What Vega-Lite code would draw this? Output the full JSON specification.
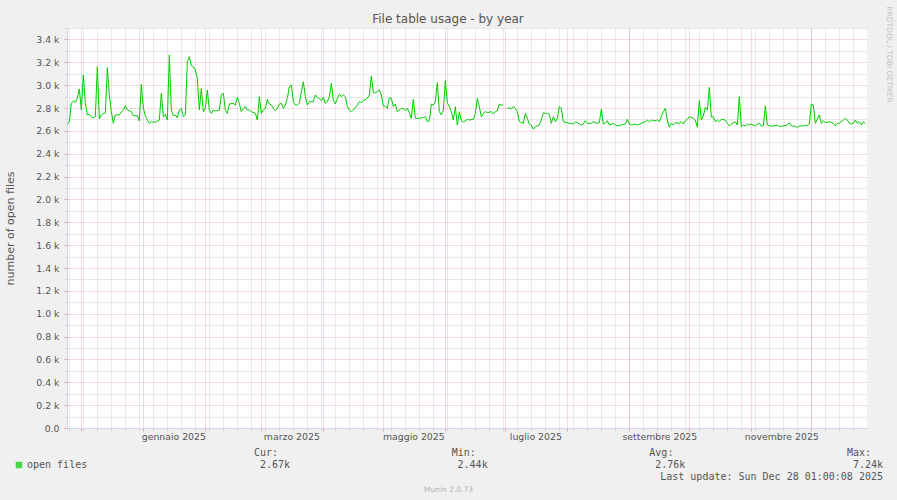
{
"$schema": "https://vega.github.io/schema/vega-lite/v6.json",
"width": 800, "height": 400,
"autosize": "none",
"padding": {"left": 67, "top": 28, "right": 30, "bottom": 72},
"background": "#f0f0f0",
"title": {"text": "File table usage - by year", "font": "DejaVu Sans", "fontSize": 12, "fontWeight": "normal", "color": "#555555", "anchor": "middle", "dx": -19, "dy": 24, "offset": 4},
"config": {
  "view": {"fill": "#ffffff", "stroke": null},
  "axis": {"labelFont": "DejaVu Sans", "titleFont": "DejaVu Sans", "labelColor": "#555555", "titleColor": "#555555", "titleFontWeight": "normal", "labelFontSize": 9.33}
},
"datasets": {
"files": [
{"date":"2024-11-24","files":2657},{"date":"2024-11-25","files":2680},{"date":"2024-11-26","files":2841},{"date":"2024-11-27","files":2861},{"date":"2024-11-28","files":2850},{"date":"2024-11-29","files":2885},{"date":"2024-11-30","files":2966},
{"date":"2024-12-01","files":2782},{"date":"2024-12-02","files":3089},{"date":"2024-12-03","files":2841},{"date":"2024-12-04","files":2739},{"date":"2024-12-05","files":2745},{"date":"2024-12-06","files":2720},{"date":"2024-12-07","files":2715},{"date":"2024-12-08","files":2724},{"date":"2024-12-09","files":3162},{"date":"2024-12-10","files":2704},{"date":"2024-12-11","files":2739},{"date":"2024-12-12","files":2753},{"date":"2024-12-13","files":2755},{"date":"2024-12-14","files":3153},{"date":"2024-12-15","files":2914},{"date":"2024-12-16","files":2768},{"date":"2024-12-17","files":2666},{"date":"2024-12-18","files":2739},{"date":"2024-12-20","files":2739},{"date":"2024-12-21","files":2765},{"date":"2024-12-22","files":2782},{"date":"2024-12-23","files":2820},{"date":"2024-12-24","files":2782},{"date":"2024-12-25","files":2775},{"date":"2024-12-26","files":2768},{"date":"2024-12-27","files":2733},{"date":"2024-12-29","files":2733},{"date":"2024-12-30","files":2686},{"date":"2024-12-31","files":3007},
{"date":"2025-01-01","files":2800},{"date":"2025-01-02","files":2733},{"date":"2025-01-03","files":2695},{"date":"2025-01-04","files":2666},{"date":"2025-01-05","files":2680},{"date":"2025-01-07","files":2675},{"date":"2025-01-09","files":2695},{"date":"2025-01-10","files":2928},{"date":"2025-01-11","files":2724},{"date":"2025-01-12","files":2745},{"date":"2025-01-13","files":2695},{"date":"2025-01-14","files":3264},{"date":"2025-01-15","files":2782},{"date":"2025-01-16","files":2733},{"date":"2025-01-17","files":2739},{"date":"2025-01-18","files":2715},{"date":"2025-01-19","files":2782},{"date":"2025-01-20","files":2797},{"date":"2025-01-21","files":2724},{"date":"2025-01-22","files":2739},{"date":"2025-01-23","files":3205},{"date":"2025-01-24","files":3249},{"date":"2025-01-25","files":3170},{"date":"2025-01-26","files":3162},{"date":"2025-01-27","files":3132},{"date":"2025-01-28","files":3060},{"date":"2025-01-29","files":2782},{"date":"2025-01-30","files":2972},{"date":"2025-01-31","files":2768},
{"date":"2025-02-01","files":2797},{"date":"2025-02-02","files":2957},{"date":"2025-02-03","files":2782},{"date":"2025-02-04","files":2753},{"date":"2025-02-05","files":2782},{"date":"2025-02-06","files":2774},{"date":"2025-02-08","files":2782},{"date":"2025-02-09","files":2919},{"date":"2025-02-10","files":2928},{"date":"2025-02-11","files":2782},{"date":"2025-02-12","files":2753},{"date":"2025-02-13","files":2835},{"date":"2025-02-15","files":2841},{"date":"2025-02-16","files":2826},{"date":"2025-02-17","files":2893},{"date":"2025-02-18","files":2841},{"date":"2025-02-19","files":2768},{"date":"2025-02-20","files":2797},{"date":"2025-02-21","files":2812},{"date":"2025-02-22","files":2782},{"date":"2025-02-23","files":2782},{"date":"2025-02-24","files":2768},{"date":"2025-02-26","files":2753},{"date":"2025-02-27","files":2695},{"date":"2025-02-28","files":2899},
{"date":"2025-03-01","files":2753},{"date":"2025-03-02","files":2782},{"date":"2025-03-03","files":2797},{"date":"2025-03-04","files":2876},{"date":"2025-03-05","files":2835},{"date":"2025-03-06","files":2826},{"date":"2025-03-07","files":2797},{"date":"2025-03-08","files":2776},{"date":"2025-03-09","files":2797},{"date":"2025-03-10","files":2835},{"date":"2025-03-11","files":2841},{"date":"2025-03-12","files":2797},{"date":"2025-03-13","files":2826},{"date":"2025-03-14","files":2884},{"date":"2025-03-15","files":2987},{"date":"2025-03-16","files":3001},{"date":"2025-03-17","files":2855},{"date":"2025-03-18","files":2826},{"date":"2025-03-19","files":2826},{"date":"2025-03-20","files":2841},{"date":"2025-03-21","files":2943},{"date":"2025-03-22","files":3030},{"date":"2025-03-23","files":2900},{"date":"2025-03-24","files":2826},{"date":"2025-03-25","files":2855},{"date":"2025-03-27","files":2855},{"date":"2025-03-28","files":2914},{"date":"2025-03-29","files":2893},{"date":"2025-03-30","files":2884},{"date":"2025-03-31","files":2864},
{"date":"2025-04-01","files":2893},{"date":"2025-04-02","files":2841},{"date":"2025-04-03","files":2855},{"date":"2025-04-04","files":2899},{"date":"2025-04-05","files":3016},{"date":"2025-04-06","files":2870},{"date":"2025-04-07","files":2835},{"date":"2025-04-08","files":2884},{"date":"2025-04-09","files":2920},{"date":"2025-04-10","files":2899},{"date":"2025-04-11","files":2914},{"date":"2025-04-12","files":2899},{"date":"2025-04-13","files":2812},{"date":"2025-04-14","files":2782},{"date":"2025-04-15","files":2768},{"date":"2025-04-16","files":2782},{"date":"2025-04-18","files":2826},{"date":"2025-04-19","files":2855},{"date":"2025-04-20","files":2847},{"date":"2025-04-21","files":2864},{"date":"2025-04-23","files":2884},{"date":"2025-04-24","files":2914},{"date":"2025-04-25","files":3080},{"date":"2025-04-26","files":2934},{"date":"2025-04-27","files":2934},{"date":"2025-04-28","files":2943},{"date":"2025-04-29","files":2957},{"date":"2025-04-30","files":2914},
{"date":"2025-05-01","files":2817},{"date":"2025-05-02","files":2817},{"date":"2025-05-03","files":2797},{"date":"2025-05-04","files":2890},{"date":"2025-05-05","files":2884},{"date":"2025-05-06","files":2812},{"date":"2025-05-07","files":2835},{"date":"2025-05-08","files":2768},{"date":"2025-05-10","files":2797},{"date":"2025-05-11","files":2797},{"date":"2025-05-12","files":2776},{"date":"2025-05-13","files":2797},{"date":"2025-05-14","files":2759},{"date":"2025-05-15","files":2710},{"date":"2025-05-16","files":2876},{"date":"2025-05-17","files":2710},{"date":"2025-05-19","files":2710},{"date":"2025-05-21","files":2718},{"date":"2025-05-22","files":2724},{"date":"2025-05-23","files":2680},{"date":"2025-05-24","files":2686},{"date":"2025-05-25","files":2835},{"date":"2025-05-26","files":2826},{"date":"2025-05-27","files":2855},{"date":"2025-05-28","files":3022},{"date":"2025-05-29","files":2768},{"date":"2025-05-30","files":2739},{"date":"2025-05-31","files":2782},
{"date":"2025-06-01","files":3039},{"date":"2025-06-02","files":2845},{"date":"2025-06-03","files":2812},{"date":"2025-06-04","files":2768},{"date":"2025-06-05","files":2695},{"date":"2025-06-06","files":2812},{"date":"2025-06-07","files":2651},{"date":"2025-06-08","files":2768},{"date":"2025-06-09","files":2690},{"date":"2025-06-10","files":2676},{"date":"2025-06-12","files":2701},{"date":"2025-06-13","files":2695},{"date":"2025-06-15","files":2701},{"date":"2025-06-16","files":2753},{"date":"2025-06-17","files":2884},{"date":"2025-06-18","files":2812},{"date":"2025-06-19","files":2724},{"date":"2025-06-20","files":2753},{"date":"2025-06-21","files":2768},{"date":"2025-06-22","files":2759},{"date":"2025-06-24","files":2768},{"date":"2025-06-25","files":2747},{"date":"2025-06-26","files":2768},{"date":"2025-06-27","files":2776},{"date":"2025-06-28","files":2835},{"date":"2025-06-29","files":2826},{"date":"2025-06-30","files":2826},
{"date":"2025-07-01","files":null},{"date":"2025-07-02","files":2797},{"date":"2025-07-03","files":2803},{"date":"2025-07-04","files":2791},{"date":"2025-07-05","files":2812},{"date":"2025-07-06","files":2797},{"date":"2025-07-07","files":2768},{"date":"2025-07-08","files":2680},{"date":"2025-07-09","files":2672},{"date":"2025-07-10","files":2666},{"date":"2025-07-11","files":2753},{"date":"2025-07-12","files":2710},{"date":"2025-07-13","files":2660},{"date":"2025-07-14","files":2651},{"date":"2025-07-15","files":2614},{"date":"2025-07-16","files":2637},{"date":"2025-07-18","files":2651},{"date":"2025-07-19","files":2695},{"date":"2025-07-20","files":2759},{"date":"2025-07-21","files":2753},{"date":"2025-07-22","files":2753},{"date":"2025-07-23","files":2745},{"date":"2025-07-24","files":2666},{"date":"2025-07-25","files":2724},{"date":"2025-07-26","files":2680},{"date":"2025-07-27","files":2710},{"date":"2025-07-28","files":2812},{"date":"2025-07-29","files":2797},{"date":"2025-07-30","files":2680},
{"date":"2025-08-01","files":2672},{"date":"2025-08-02","files":2666},{"date":"2025-08-04","files":2660},{"date":"2025-08-05","files":2680},{"date":"2025-08-06","files":2672},{"date":"2025-08-08","files":2651},{"date":"2025-08-09","files":2660},{"date":"2025-08-10","files":2689},{"date":"2025-08-11","files":2666},{"date":"2025-08-13","files":2666},{"date":"2025-08-14","files":2680},{"date":"2025-08-16","files":2666},{"date":"2025-08-17","files":2672},{"date":"2025-08-18","files":2789},{"date":"2025-08-19","files":2660},{"date":"2025-08-20","files":2666},{"date":"2025-08-21","files":2689},{"date":"2025-08-22","files":2651},{"date":"2025-08-24","files":2666},{"date":"2025-08-25","files":2651},{"date":"2025-08-26","files":2643},{"date":"2025-08-28","files":2651},{"date":"2025-08-30","files":2660},{"date":"2025-08-31","files":2701},
{"date":"2025-09-01","files":2660},{"date":"2025-09-02","files":2651},{"date":"2025-09-04","files":2660},{"date":"2025-09-05","files":2651},{"date":"2025-09-07","files":2666},{"date":"2025-09-09","files":2680},{"date":"2025-09-10","files":2695},{"date":"2025-09-11","files":2680},{"date":"2025-09-12","files":2695},{"date":"2025-09-13","files":2686},{"date":"2025-09-15","files":2695},{"date":"2025-09-16","files":2680},{"date":"2025-09-17","files":2724},{"date":"2025-09-18","files":2768},{"date":"2025-09-19","files":2797},{"date":"2025-09-20","files":2695},{"date":"2025-09-21","files":2631},{"date":"2025-09-22","files":2666},{"date":"2025-09-23","files":2651},{"date":"2025-09-24","files":2672},{"date":"2025-09-26","files":2666},{"date":"2025-09-27","files":2680},{"date":"2025-09-28","files":2660},{"date":"2025-09-29","files":2689},{"date":"2025-09-30","files":2701},
{"date":"2025-10-01","files":2724},{"date":"2025-10-03","files":2710},{"date":"2025-10-04","files":2695},{"date":"2025-10-05","files":2631},{"date":"2025-10-06","files":2864},{"date":"2025-10-07","files":2695},{"date":"2025-10-08","files":2730},{"date":"2025-10-09","files":2806},{"date":"2025-10-10","files":2782},{"date":"2025-10-11","files":2981},{"date":"2025-10-12","files":2720},{"date":"2025-10-13","files":2724},{"date":"2025-10-14","files":2680},{"date":"2025-10-15","files":2695},{"date":"2025-10-16","files":2680},{"date":"2025-10-17","files":2701},{"date":"2025-10-19","files":2695},{"date":"2025-10-20","files":2666},{"date":"2025-10-21","files":2643},{"date":"2025-10-22","files":2660},{"date":"2025-10-24","files":2680},{"date":"2025-10-25","files":2651},{"date":"2025-10-26","files":2899},{"date":"2025-10-27","files":2637},{"date":"2025-10-28","files":2651},{"date":"2025-10-29","files":2643},{"date":"2025-10-30","files":2660},{"date":"2025-10-31","files":2651},
{"date":"2025-11-01","files":2660},{"date":"2025-11-03","files":2643},{"date":"2025-11-04","files":2660},{"date":"2025-11-05","files":2666},{"date":"2025-11-06","files":2643},{"date":"2025-11-07","files":2643},{"date":"2025-11-08","files":2818},{"date":"2025-11-09","files":2651},{"date":"2025-11-10","files":2643},{"date":"2025-11-12","files":2643},{"date":"2025-11-14","files":2651},{"date":"2025-11-15","files":2637},{"date":"2025-11-17","files":2643},{"date":"2025-11-19","files":2651},{"date":"2025-11-20","files":2672},{"date":"2025-11-21","files":2643},{"date":"2025-11-22","files":2643},{"date":"2025-11-24","files":2631},{"date":"2025-11-25","files":2643},{"date":"2025-11-27","files":2643},{"date":"2025-11-28","files":2651},{"date":"2025-11-29","files":2645},{"date":"2025-11-30","files":2660},
{"date":"2025-12-01","files":2835},{"date":"2025-12-02","files":2826},{"date":"2025-12-03","files":2666},{"date":"2025-12-05","files":2739},{"date":"2025-12-06","files":2666},{"date":"2025-12-07","files":2689},{"date":"2025-12-08","files":2672},{"date":"2025-12-10","files":2680},{"date":"2025-12-11","files":2672},{"date":"2025-12-12","files":2666},{"date":"2025-12-13","files":2643},{"date":"2025-12-14","files":2666},{"date":"2025-12-15","files":2666},{"date":"2025-12-17","files":2695},{"date":"2025-12-18","files":2710},{"date":"2025-12-19","files":2695},{"date":"2025-12-20","files":2666},{"date":"2025-12-21","files":2660},{"date":"2025-12-22","files":2666},{"date":"2025-12-23","files":2695},{"date":"2025-12-24","files":2666},{"date":"2025-12-25","files":2680},{"date":"2025-12-26","files":2651},{"date":"2025-12-27","files":2680},{"date":"2025-12-28","files":2666}
]
},
"layer": [
{
  "data": {"name": "files"},
  "mark": {"type": "point", "opacity": 0},
  "encoding": {
    "x": {"field": "date", "type": "temporal",
      "scale": {"type": "utc", "nice": false, "domain": [{"year":2024,"month":11,"date":23,"hours":20,"utc":true},{"year":2025,"month":12,"date":28,"hours":20,"utc":true}]},
      "axis": {"orient": "bottom", "grid": true, "gridColor": "#8f8f8f", "gridOpacity": 0.38, "gridDash": [1,1], "labels": false, "ticks": true, "tickSize": 2, "tickColor": "#c8c8c8", "domain": false, "title": null,
        "values": [
          {"year":2024,"month":11,"date":25,"utc":true},{"year":2024,"month":12,"date":2,"utc":true},{"year":2024,"month":12,"date":9,"utc":true},{"year":2024,"month":12,"date":16,"utc":true},{"year":2024,"month":12,"date":23,"utc":true},{"year":2024,"month":12,"date":30,"utc":true},
          {"year":2025,"month":1,"date":6,"utc":true},{"year":2025,"month":1,"date":13,"utc":true},{"year":2025,"month":1,"date":20,"utc":true},{"year":2025,"month":1,"date":27,"utc":true},
          {"year":2025,"month":2,"date":3,"utc":true},{"year":2025,"month":2,"date":10,"utc":true},{"year":2025,"month":2,"date":17,"utc":true},{"year":2025,"month":2,"date":24,"utc":true},
          {"year":2025,"month":3,"date":3,"utc":true},{"year":2025,"month":3,"date":10,"utc":true},{"year":2025,"month":3,"date":17,"utc":true},{"year":2025,"month":3,"date":24,"utc":true},{"year":2025,"month":3,"date":31,"utc":true},
          {"year":2025,"month":4,"date":7,"utc":true},{"year":2025,"month":4,"date":14,"utc":true},{"year":2025,"month":4,"date":21,"utc":true},{"year":2025,"month":4,"date":28,"utc":true},
          {"year":2025,"month":5,"date":5,"utc":true},{"year":2025,"month":5,"date":12,"utc":true},{"year":2025,"month":5,"date":19,"utc":true},{"year":2025,"month":5,"date":26,"utc":true},
          {"year":2025,"month":6,"date":2,"utc":true},{"year":2025,"month":6,"date":9,"utc":true},{"year":2025,"month":6,"date":16,"utc":true},{"year":2025,"month":6,"date":23,"utc":true},{"year":2025,"month":6,"date":30,"utc":true},
          {"year":2025,"month":7,"date":7,"utc":true},{"year":2025,"month":7,"date":14,"utc":true},{"year":2025,"month":7,"date":21,"utc":true},{"year":2025,"month":7,"date":28,"utc":true},
          {"year":2025,"month":8,"date":4,"utc":true},{"year":2025,"month":8,"date":11,"utc":true},{"year":2025,"month":8,"date":18,"utc":true},{"year":2025,"month":8,"date":25,"utc":true},
          {"year":2025,"month":9,"date":1,"utc":true},{"year":2025,"month":9,"date":8,"utc":true},{"year":2025,"month":9,"date":15,"utc":true},{"year":2025,"month":9,"date":22,"utc":true},{"year":2025,"month":9,"date":29,"utc":true},
          {"year":2025,"month":10,"date":6,"utc":true},{"year":2025,"month":10,"date":13,"utc":true},{"year":2025,"month":10,"date":20,"utc":true},{"year":2025,"month":10,"date":27,"utc":true},
          {"year":2025,"month":11,"date":3,"utc":true},{"year":2025,"month":11,"date":10,"utc":true},{"year":2025,"month":11,"date":17,"utc":true},{"year":2025,"month":11,"date":24,"utc":true},
          {"year":2025,"month":12,"date":1,"utc":true},{"year":2025,"month":12,"date":8,"utc":true},{"year":2025,"month":12,"date":15,"utc":true},{"year":2025,"month":12,"date":22,"utc":true}
        ]}},
    "y": {"field": "files", "type": "quantitative",
      "scale": {"domain": [0, 3500], "nice": false, "zero": false},
      "axis": {"orient": "left", "values": [100,300,500,700,900,1100,1300,1500,1700,1900,2100,2300,2500,2700,2900,3100,3300,3500],
        "grid": true, "gridColor": "#8f8f8f", "gridOpacity": 0.38, "gridDash": [1,1], "labels": false, "ticks": true, "tickSize": 2, "tickColor": "#c8c8c8", "domain": false,
        "title": "RRDTOOL / TOBI OETIKER", "titleX": 821, "titleY": 26, "titleAngle": 90, "titleAlign": "center", "titleBaseline": "middle", "titleFontSize": 7.5, "titleColor": "#c4c4c4"}}
  }
},
{
  "data": {"name": "files"},
  "mark": {"type": "point", "opacity": 0},
  "encoding": {
    "x": {"field": "date", "type": "temporal",
      "scale": {"type": "utc", "nice": false, "domain": [{"year":2024,"month":11,"date":23,"hours":20,"utc":true},{"year":2025,"month":12,"date":28,"hours":20,"utc":true}]},
      "axis": {"orient": "bottom", "grid": true, "gridColor": "#c11f1f", "gridOpacity": 0.32, "gridDash": [1,1], "labels": false, "ticks": true, "tickSize": 3, "tickColor": "#e3a3a3", "domain": false, "title": null,
        "values": [
          {"year":2024,"month":12,"date":1,"utc":true},{"year":2025,"month":1,"date":1,"utc":true},{"year":2025,"month":2,"date":1,"utc":true},{"year":2025,"month":3,"date":1,"utc":true},{"year":2025,"month":4,"date":1,"utc":true},{"year":2025,"month":5,"date":1,"utc":true},{"year":2025,"month":6,"date":1,"utc":true},{"year":2025,"month":7,"date":1,"utc":true},{"year":2025,"month":8,"date":1,"utc":true},{"year":2025,"month":9,"date":1,"utc":true},{"year":2025,"month":10,"date":1,"utc":true},{"year":2025,"month":11,"date":1,"utc":true},{"year":2025,"month":12,"date":1,"utc":true}
        ]}},
    "y": {"field": "files", "type": "quantitative",
      "scale": {"domain": [0, 3500], "nice": false, "zero": false},
      "axis": {"orient": "left", "values": [0,200,400,600,800,1000,1200,1400,1600,1800,2000,2200,2400,2600,2800,3000,3200,3400],
        "grid": true, "gridColor": "#c11f1f", "gridOpacity": 0.32, "gridDash": [1,1], "ticks": true, "tickSize": 3, "tickColor": "#e3a3a3", "labelPadding": 5,
        "labelExpr": "datum.value == 0 ? '0.0' : format(datum.value / 1000, '.1f') + ' k'",
        "domain": true, "domainColor": "#cfd6f8",
        "title": "number of open files", "titleX": -57, "titleY": 200, "titleAngle": -90, "titleAlign": "center", "titleBaseline": "middle", "titleFontSize": 11}}
  }
},
{
  "data": {"name": "files"},
  "mark": {"type": "line", "color": "#00cc00", "strokeWidth": 1, "invalid": "break-paths-show-domains"},
  "encoding": {
    "x": {"field": "date", "type": "temporal",
      "scale": {"type": "utc", "nice": false, "domain": [{"year":2024,"month":11,"date":23,"hours":20,"utc":true},{"year":2025,"month":12,"date":28,"hours":20,"utc":true}]},
      "axis": {"orient": "bottom", "grid": false, "ticks": false, "tickSize": 0, "labelPadding": 4, "labelFlush": false, "labelOverlap": false, "labelBound": false,
        "labelExpr": "['gennaio','febbraio','marzo','aprile','maggio','giugno','luglio','agosto','settembre','ottobre','novembre','dicembre'][utcmonth(datum.value)] + ' ' + utcyear(datum.value)",
        "values": [{"year":2025,"month":1,"date":16,"utc":true},{"year":2025,"month":3,"date":16,"utc":true},{"year":2025,"month":5,"date":16,"utc":true},{"year":2025,"month":7,"date":16,"utc":true},{"year":2025,"month":9,"date":16,"utc":true},{"year":2025,"month":11,"date":16,"utc":true}],
        "domain": true, "domainColor": "#cfd6f8",
        "title": "Munin 2.0.73", "titleX": 381, "titleY": 61, "titleAlign": "center", "titleBaseline": "middle", "titleFontSize": 7.5, "titleColor": "#b4b4b4"}},
    "y": {"field": "files", "type": "quantitative", "scale": {"domain": [0, 3500], "nice": false, "zero": false}, "axis": null}
  }
},
{
  "data": {"name": "files"},
  "mark": {"type": "point", "filled": true, "shape": "square", "size": 0},
  "encoding": {
    "x": {"field": "date", "type": "temporal", "scale": {"type": "utc", "nice": false, "domain": [{"year":2024,"month":11,"date":23,"hours":20,"utc":true},{"year":2025,"month":12,"date":28,"hours":20,"utc":true}]}, "axis": null},
    "y": {"field": "files", "type": "quantitative", "scale": {"domain": [0, 3500], "nice": false, "zero": false}, "axis": null},
    "fill": {"datum": "open files", "type": "nominal", "scale": {"domain": ["open files"], "range": ["#00cc00"]},
      "legend": {"orient": "none", "legendX": -53, "legendY": 432, "title": null, "padding": 0, "symbolType": "square", "symbolSize": 42, "symbolStrokeWidth": 0, "labelFont": "DejaVu Sans Mono", "labelFontSize": 10, "labelColor": "#555555", "labelOffset": 3}}
  }
},
{
  "data": {"values": [
    {"col": "Cur", "row": "head", "label": "Cur:"},
    {"col": "Min", "row": "head", "label": "Min:"},
    {"col": "Avg", "row": "head", "label": "Avg:"},
    {"col": "Max", "row": "head", "label": "Max:"}
  ]},
  "mark": {"type": "text", "align": "left", "dx": -36, "baseline": "middle", "font": "DejaVu Sans Mono", "fontSize": 10, "color": "#555555"},
  "encoding": {
    "x": {"field": "col", "type": "nominal", "scale": {"type": "point", "domain": ["Cur","Min","Avg","Max"], "range": [223, 816], "padding": 0}, "axis": null},
    "y": {"field": "row", "type": "nominal", "scale": {"type": "point", "domain": ["head","val","update"], "range": [424.7, 448.7], "padding": 0}, "axis": null},
    "text": {"field": "label"}
  }
},
{
  "data": {"values": [
    {"col": "Cur", "row": "val", "label": "2.67k"},
    {"col": "Min", "row": "val", "label": "2.44k"},
    {"col": "Avg", "row": "val", "label": "2.76k"},
    {"col": "Max", "row": "val", "label": "7.24k"},
    {"col": "Max", "row": "update", "label": "Last update: Sun Dec 28 01:00:08 2025"}
  ]},
  "mark": {"type": "text", "align": "right", "baseline": "middle", "font": "DejaVu Sans Mono", "fontSize": 10, "color": "#555555"},
  "encoding": {
    "x": {"field": "col", "type": "nominal", "scale": {"type": "point", "domain": ["Cur","Min","Avg","Max"], "range": [223, 816], "padding": 0}, "axis": null},
    "y": {"field": "row", "type": "nominal", "scale": {"type": "point", "domain": ["head","val","update"], "range": [424.7, 448.7], "padding": 0}, "axis": null},
    "text": {"field": "label"}
  }
}
],
"resolve": {"scale": {"x": "independent", "y": "independent"}, "axis": {"x": "independent", "y": "independent"}}
}
